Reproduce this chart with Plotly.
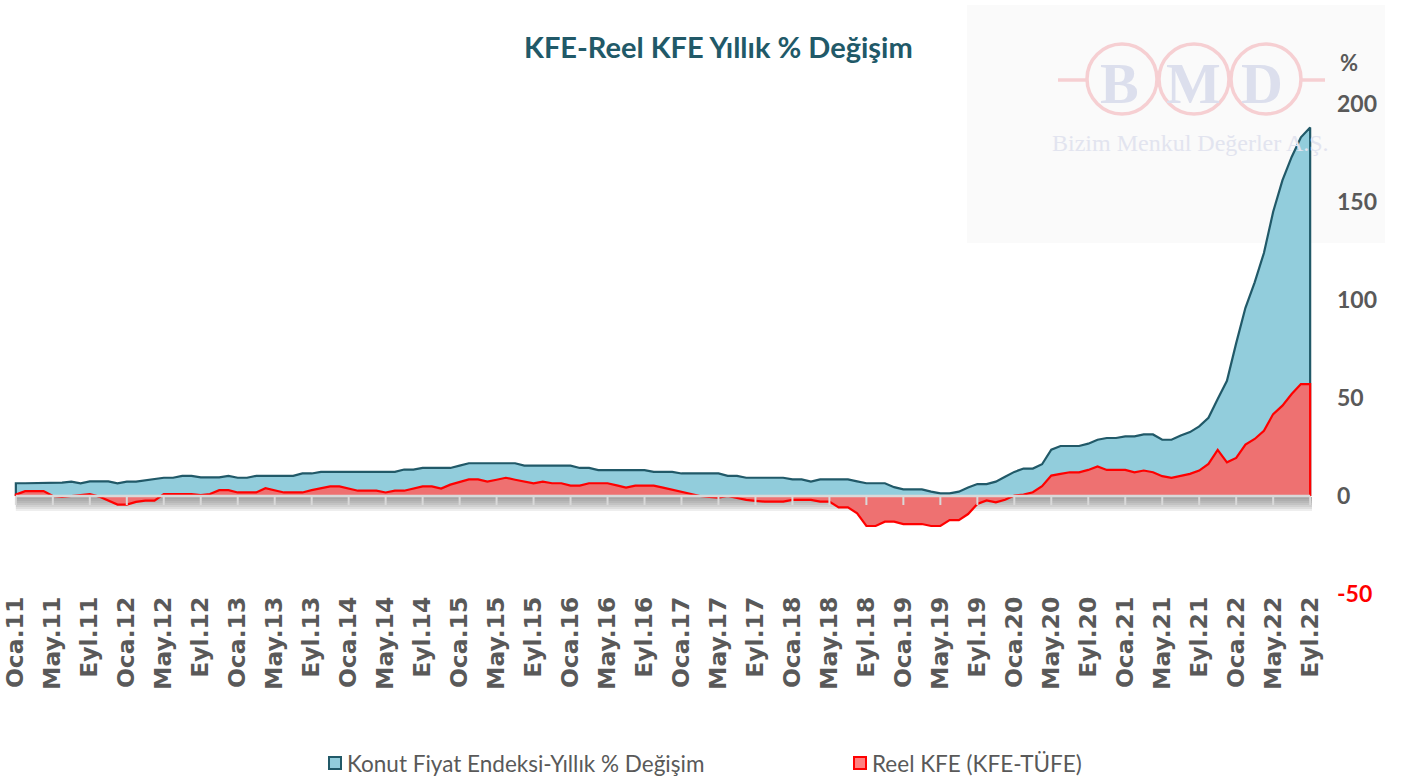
import plotly.graph_objects as go

# ---------------- data (monthly, Oca.2011 - Eyl.2022) ----------------
kfe_2011 = [6.5, 6.5, 6.5, 6.5, 6.5, 6.8, 7.3, 6.5, 7.5, 7.5, 7.5, 6.5]
kfe_2012 = [7.3, 7.3, 8.0, 8.5, 9.3, 9.3, 10.3, 10.3, 9.5, 9.5, 9.5, 10.3]
kfe_2013 = [9.3, 9.3, 10.3, 10.3, 10.3, 10.3, 10.3, 11.5, 11.5, 12.3, 12.3, 12.3]
kfe_2014 = [12.3, 12.3, 12.3, 12.3, 12.3, 12.3, 13.5, 13.5, 14.3, 14.3, 14.3, 14.3]
kfe_2015 = [15.5, 16.7, 16.7, 16.7, 16.7, 16.7, 16.7, 15.5, 15.5, 15.5, 15.5, 15.5]
kfe_2016 = [15.5, 14.3, 14.3, 13.2, 13.2, 13.2, 13.2, 13.2, 13.2, 12.3, 12.3, 12.3]
kfe_2017 = [11.5, 11.5, 11.5, 11.5, 11.5, 10.3, 10.3, 9.3, 9.3, 9.3, 9.3, 9.3]
kfe_2018 = [8.5, 8.5, 7.3, 8.5, 8.5, 8.5, 8.5, 7.5, 6.5, 6.5, 6.5, 4.5]
kfe_2019 = [3.4, 3.4, 3.4, 2.2, 1.3, 1.3, 2.2, 4.3, 6.1, 6.1, 7.3, 9.8]
kfe_2020 = [12.3, 14.0, 14.0, 16.2, 23.6, 25.5, 25.5, 25.5, 26.7, 28.7, 29.6, 29.6]
kfe_2021 = [30.4, 30.4, 31.4, 31.4, 28.7, 28.7, 30.9, 32.6, 35.5, 39.9, 49.5, 58.8]
kfe_2022 = [78, 96, 109, 124, 145, 161, 173, 183, 188]

reel_2011 = [0.7, 2.5, 2.5, 2.5, 0.0, -0.5, 0.0, 0.5, 1.0, -0.3, -2.5, -4.4]
reel_2012 = [-4.4, -3.0, -2.4, -2.4, 1.0, 1.0, 1.0, 1.0, 0.5, 1.0, 3.0, 3.0]
reel_2013 = [1.8, 1.8, 1.8, 4.0, 3.0, 1.8, 1.8, 1.8, 3.0, 4.0, 4.9, 4.9]
reel_2014 = [3.8, 2.7, 2.7, 2.7, 1.8, 2.7, 2.7, 3.8, 4.9, 4.9, 3.8, 5.8]
reel_2015 = [7.3, 8.5, 8.5, 7.3, 8.3, 9.3, 8.3, 7.3, 6.5, 7.3, 6.5, 6.5]
reel_2016 = [5.3, 5.3, 6.5, 6.5, 6.5, 5.4, 4.3, 5.3, 5.3, 5.3, 4.3, 3.2]
reel_2017 = [2.2, 1.1, 0.0, -0.5, -0.9, 0.0, -1.0, -2.0, -2.5, -2.9, -2.9, -2.9]
reel_2018 = [-2.0, -2.0, -2.0, -2.9, -2.9, -5.8, -5.8, -8.8, -15.3, -15.3, -13.1, -13.1]
reel_2019 = [-14.3, -14.3, -14.3, -15.3, -15.3, -12.3, -12.3, -9.2, -4.1, -2.3, -3.2, -1.9]
reel_2020 = [0.2, 0.7, 1.9, 5.0, 10.4, 11.3, 12.1, 12.1, 13.3, 15.1, 13.3, 13.3]
reel_2021 = [13.3, 12.1, 13.0, 12.1, 10.1, 9.3, 10.4, 11.3, 13.0, 16.4, 23.5, 17.2]
reel_2022 = [19.4, 26.2, 29.1, 33.3, 41.8, 46.1, 52.0, 57.1, 57.1]

kfe = (kfe_2011 + kfe_2012 + kfe_2013 + kfe_2014 + kfe_2015 + kfe_2016 +
       kfe_2017 + kfe_2018 + kfe_2019 + kfe_2020 + kfe_2021 + kfe_2022)
reel = (reel_2011 + reel_2012 + reel_2013 + reel_2014 + reel_2015 + reel_2016 +
        reel_2017 + reel_2018 + reel_2019 + reel_2020 + reel_2021 + reel_2022)

month_short = ["Oca", "May", "Eyl"]
years = list(range(11, 23))
tick_labels = [f"{m}.{y}" for y in years for m in month_short]  # every 4 months
y_ticks = [-50, 0, 50, 100, 150, 200]
series_names = ["Konut Fiyat Endeksi-Yıllık % Değişim", "Reel KFE (KFE-TÜFE)"]
title_text = "KFE-Reel KFE Yıllık % Değişim"

idx = list(range(len(kfe)))
tick_pos = idx[::4]

# ---------------- styling ----------------
BLUE_FILL, BLUE_LINE = "#92CDDC", "#215968"
RED_FILL, RED_LINE = "#EE7171", "#FF0000"
GRAY_TXT = "#595959"

W, H = 1407, 778
# plot area in page pixels
S_LEFT, S_RIGHT, S_TOP, S_BOT = 14, 1312, 104, 594
L, R = S_LEFT, W - S_RIGHT
T, B = S_TOP, H - S_BOT


def px(x):
    return (x - S_LEFT) / (S_RIGHT - S_LEFT)


def py(y):
    return (S_BOT - y) / (S_BOT - S_TOP)


fig = go.Figure()

fig.add_trace(go.Scatter(
    x=[idx[0]] + idx + [idx[-1]], y=[0] + kfe + [0],
    fill="toself", fillcolor=BLUE_FILL, mode="lines",
    line=dict(color=BLUE_LINE, width=2.2), name=series_names[0],
    showlegend=False, hoverinfo="skip"))
fig.add_trace(go.Scatter(
    x=[idx[0]] + idx + [idx[-1]], y=[0] + reel + [0],
    fill="toself", fillcolor=RED_FILL, mode="lines",
    line=dict(color=RED_LINE, width=2.2), name=series_names[1],
    showlegend=False, hoverinfo="skip"))

shapes = []
# watermark background
shapes.append(dict(type="rect", xref="paper", yref="paper", layer="below",
                   x0=px(967), x1=px(1385), y0=py(243), y1=py(5),
                   fillcolor="#fafafa", line=dict(width=0)))
ring_col = "#f6cfd2"
for cx in (1122, 1194, 1266):
    shapes.append(dict(type="circle", xref="paper", yref="paper", layer="below",
                       x0=px(cx - 35), x1=px(cx + 35), y0=py(114), y1=py(44),
                       line=dict(color=ring_col, width=3.5)))
shapes.append(dict(type="line", xref="paper", yref="paper", layer="below",
                   x0=px(1058), x1=px(1088), y0=py(80), y1=py(80),
                   line=dict(color=ring_col, width=3.5)))
shapes.append(dict(type="line", xref="paper", yref="paper", layer="below",
                   x0=px(1300), x1=px(1325), y0=py(80), y1=py(80),
                   line=dict(color=ring_col, width=3.5)))

# zero-axis shadow (gradient made of stacked translucent bands)
y0px = S_BOT - (0 - (-50)) / 250 * (S_BOT - S_TOP)
for k in range(1, 8):
    shapes.append(dict(type="rect", xref="x", yref="paper", layer="below",
                       x0=idx[0], x1=idx[-1] + 0.5, y0=py(y0px + 1), y1=py(y0px + 1 + 2 * k),
                       fillcolor="rgba(90,90,90,0.10)", line=dict(width=0)))
# zero axis line + tick marks
shapes.append(dict(type="line", xref="x", yref="y", layer="above",
                   x0=idx[0], x1=idx[-1], y0=0, y1=0,
                   line=dict(color="#d9d9d9", width=2.5)))
for t in tick_pos:
    shapes.append(dict(type="line", xref="x", yref="paper", layer="above",
                       x0=t, x1=t, y0=py(y0px), y1=py(y0px + 9),
                       line=dict(color="#d9d9d9", width=2)))

# legend squares
shapes.append(dict(type="rect", xref="paper", yref="paper",
                   x0=px(329), x1=px(341), y0=py(769), y1=py(757),
                   fillcolor=BLUE_FILL, line=dict(color=BLUE_LINE, width=2)))
shapes.append(dict(type="rect", xref="paper", yref="paper",
                   x0=px(854), x1=px(866), y0=py(769), y1=py(757),
                   fillcolor="#FF8080", line=dict(color=RED_LINE, width=2)))

annotations = [
    dict(text=title_text, xref="paper", yref="paper", x=px(718), y=py(47),
         xanchor="center", yanchor="middle", showarrow=False,
         font=dict(family="Lato", size=29, color="#215968", weight="bold")),
    dict(text="%", xref="paper", yref="paper", x=px(1338), y=py(62),
         xanchor="left", yanchor="middle", showarrow=False,
         font=dict(family="Lato", size=22, color=GRAY_TXT, weight="bold")),
    dict(text=series_names[0], xref="paper", yref="paper", x=px(345), y=py(763),
         xanchor="left", yanchor="middle", showarrow=False,
         font=dict(family="Lato", size=22.5, color=GRAY_TXT)),
    dict(text=series_names[1], xref="paper", yref="paper", x=px(870), y=py(763),
         xanchor="left", yanchor="middle", showarrow=False,
         font=dict(family="Lato", size=22.5, color=GRAY_TXT)),
    dict(text="Bizim Menkul Değerler A.Ş.", xref="paper", yref="paper", x=px(1190), y=py(143),
         xanchor="center", yanchor="middle", showarrow=False,
         font=dict(family="Liberation Serif", size=24, color="#e2e4ef")),
]
for letter, cx in (("B", 1119), ("M", 1193), ("D", 1262)):
    annotations.append(dict(text=letter, xref="paper", yref="paper", x=px(cx), y=py(84),
                            xanchor="center", yanchor="middle", showarrow=False,
                            font=dict(family="Liberation Serif", size=58, color="#dcdfed",
                                      weight="bold")))

y_ticktext = [f'<span style="color:#FF0000">{v}</span>' if v < 0 else str(v) for v in y_ticks]

fig.update_layout(
    width=W, height=H,
    margin=dict(l=L, r=R, t=T, b=B, autoexpand=False),
    paper_bgcolor="white", plot_bgcolor="rgba(0,0,0,0)",
    showlegend=False,
    shapes=shapes, annotations=annotations,
    xaxis=dict(range=[idx[0] - 0.2, idx[-1] + 0.2], tickvals=tick_pos, ticktext=tick_labels,
               tickangle=-90, showgrid=False, zeroline=False, showline=False, ticks="",
               automargin=False, ticklabelstandoff=-3, ticklabeloverflow="allow",
               tickfont=dict(family="DejaVu Sans", size=23.5, color=GRAY_TXT, weight="bold")),
    yaxis=dict(range=[-50, 200], tickvals=y_ticks, ticktext=y_ticktext, side="right",
               showgrid=False, zeroline=False, showline=False, ticks="",
               automargin=False, ticklabelstandoff=24, ticklabeloverflow="allow",
               tickfont=dict(family="Lato", size=23, color=GRAY_TXT, weight="bold")),
)

# remove the default page margin so the figure sits at the window's top-left corner
fig.write_html("out.html", config={"displayModeBar": False},
               post_script="document.body.style.margin='0';")
